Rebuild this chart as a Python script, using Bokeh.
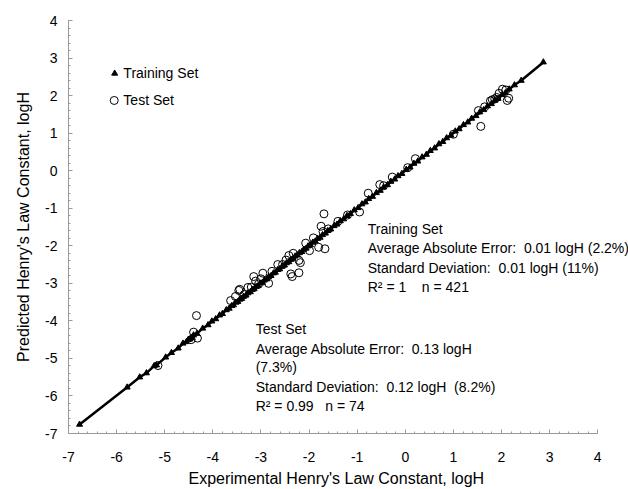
from bokeh.plotting import figure
from bokeh.models import SingleIntervalTicker, Label, PrintfTickFormatter, Title
from bokeh.embed import file_html
from bokeh.resources import INLINE

# ---------------- data ----------------
train_exp = [-6.77, -5.78, -5.52, -5.38, -5.22, -5.17, -4.98, -4.86, -4.72, -4.62,
             -4.55, -4.51, -4.48, -4.44, -4.40, -4.33, -4.21, -4.10, -4.02, -3.94,
             -3.86, -3.80, -3.72, -3.66, -3.61, -3.57, -3.52, -3.48, -3.44, -3.40,
             -3.36, -3.31, -3.27, -3.22, -3.18, -3.14, -3.10, -3.06, -3.01, -2.97,
             -2.93, -2.88, -2.84, -2.79, -2.74, -2.70, -2.65, -2.61, -2.56, -2.51,
             -2.47, -2.42, -2.38, -2.33, -2.29, -2.24, -2.20, -2.15, -2.11, -2.06,
             -2.02, -1.97, -1.92, -1.87, -1.82, -1.77, -1.72, -1.66, -1.61, -1.55,
             -1.48, -1.42, -1.35, -1.28, -1.21, -1.14, -1.06, -0.98, -0.90, -0.83,
             -0.76, -0.68, -0.60, -0.52, -0.45, -0.37, -0.30, -0.22, -0.15, -0.07,
             0.02, 0.10, 0.18, 0.26, 0.35, 0.44, 0.52, 0.61, 0.70, 0.78,
             0.86, 0.95, 1.04, 1.12, 1.21, 1.30, 1.38, 1.47, 1.55, 1.63,
             1.71, 1.79, 1.86, 1.93, 2.01, 2.08, 2.16, 2.27, 2.41, 2.87]
train_pred = [-6.76, -5.77, -5.50, -5.39, -5.20, -5.18, -4.97, -4.85, -4.73, -4.60,
              -4.56, -4.50, -4.49, -4.45, -4.38, -4.34, -4.20, -4.11, -4.01, -3.95,
              -3.85, -3.81, -3.71, -3.67, -3.60, -3.58, -3.51, -3.49, -3.43, -3.41,
              -3.35, -3.32, -3.26, -3.23, -3.17, -3.15, -3.09, -3.07, -3.00, -2.98,
              -2.92, -2.89, -2.83, -2.80, -2.73, -2.71, -2.64, -2.62, -2.55, -2.52,
              -2.46, -2.43, -2.37, -2.34, -2.28, -2.25, -2.19, -2.16, -2.10, -2.07,
              -2.01, -1.98, -1.91, -1.88, -1.81, -1.78, -1.71, -1.67, -1.60, -1.56,
              -1.47, -1.43, -1.34, -1.29, -1.20, -1.15, -1.05, -0.99, -0.89, -0.84,
              -0.75, -0.69, -0.59, -0.53, -0.44, -0.38, -0.29, -0.23, -0.14, -0.08,
              0.03, 0.09, 0.19, 0.25, 0.36, 0.43, 0.53, 0.60, 0.71, 0.77,
              0.87, 0.94, 1.05, 1.11, 1.22, 1.29, 1.39, 1.46, 1.56, 1.62,
              1.72, 1.78, 1.87, 1.92, 2.02, 2.07, 2.17, 2.28, 2.40, 2.89]

test_exp = [-5.14, -4.45, -4.34, -4.40, -4.32, -3.63, -3.53, -3.46, -3.44, -3.35,
            -3.27, -3.20, -3.15, -3.11, -3.05, -3.00, -2.96, -2.84, -2.77, -2.65,
            -2.55, -2.48, -2.42, -2.38, -2.35, -2.33, -2.21, -2.21, -2.18, -2.07,
            -1.99, -1.91, -1.80, -1.75, -1.71, -1.69, -1.67, -1.60, -1.40, -1.20,
            -0.95, -0.77, -0.53, -0.45, -0.27, 0.05, 0.21, 1.00, 1.52, 1.57,
            1.65, 1.77, 1.81, 1.86, 1.90, 1.95, 2.02, 2.09, 2.12, 2.15]
test_pred = [-5.19, -4.50, -3.86, -4.30, -4.46, -3.46, -3.35, -3.19, -3.16, -3.30,
             -3.11, -3.10, -2.82, -2.94, -3.02, -2.88, -2.73, -3.00, -2.68, -2.50,
             -2.50, -2.38, -2.26, -2.75, -2.82, -2.20, -2.39, -2.72, -2.45, -1.93,
             -2.13, -1.79, -2.04, -1.48, -1.62, -1.15, -2.08, -1.55, -1.35, -1.18,
             -1.10, -0.60, -0.37, -0.40, -0.17, 0.08, 0.32, 0.97, 1.60, 1.18,
             1.70, 1.86, 1.89, 1.91, 1.95, 2.06, 2.17, 2.15, 1.87, 1.93]

x_title = "Experimental Henry's Law Constant, logH"
y_title = "Predicted Henry's Law Constant, logH"
legend_labels = ["Training Set", "Test Set"]
train_stats = ["Training Set",
               "Average Absolute Error:\u00a0 0.01 logH (2.2%)",
               "Standard Deviation:\u00a0 0.01 logH (11%)",
               "R\u00b2 = 1\u00a0\u00a0\u00a0 n = 421"]
test_stats = ["Test Set",
              "Average Absolute Error:\u00a0 0.13 logH",
              "(7.3%)",
              "Standard Deviation:\u00a0 0.12 logH\u00a0 (8.2%)",
              "R\u00b2 = 0.99\u00a0\u00a0 n = 74"]

FONT = "Liberation Sans"

# frame extends past x = 4 so that the right-hand statistics text is not clipped;
# the axis itself is bounded to -7..4 as in the original
p = figure(width=628, height=489, x_range=(-7, 4.64), y_range=(-7, 4),
           output_backend="svg", toolbar_location=None,
           min_border_left=68, min_border_right=0, min_border_top=20,
           min_border_bottom=56)
p.outline_line_color = None
p.xgrid.visible = False
p.ygrid.visible = False
p.background_fill_color = "white"
p.border_fill_color = "white"

for ax in (p.xaxis[0], p.yaxis[0]):
    ax.bounds = (-7, 4)
    ax.ticker = SingleIntervalTicker(interval=1, num_minor_ticks=5)
    ax.formatter = PrintfTickFormatter(format="%d")
    ax.axis_line_color = "#9a9a9a"
    ax.major_tick_line_color = "#9a9a9a"
    ax.minor_tick_line_color = "#9a9a9a"
    ax.major_tick_in = 4
    ax.major_tick_out = 0
    ax.minor_tick_in = 2
    ax.minor_tick_out = 0
    ax.major_label_text_font = FONT
    ax.major_label_text_font_size = "14px"
    ax.major_label_text_color = "black"
    ax.axis_label_text_font = FONT
    ax.axis_label_text_font_size = "16px"
    ax.axis_label_text_font_style = "normal"
    ax.axis_label_text_color = "black"

p.yaxis.axis_label = y_title
p.xaxis.major_label_standoff = 18
p.yaxis.major_label_standoff = 11
p.yaxis.axis_label_standoff = 10

p.add_layout(Title(text=x_title, align="left", offset=120, standoff=6,
                   text_font=FONT, text_font_size="16px",
                   text_font_style="normal", text_color="black"), "below")

# training line + markers
p.line(train_exp, train_pred, line_color="black", line_width=2.5)
p.scatter(train_exp, train_pred, marker="triangle", size=6,
          fill_color="black", line_color="black")
# test circles
p.scatter(test_exp, test_pred, marker="circle", size=8,
          fill_color=None, line_color="black", line_width=1)

# legend (drawn as in the original figure)
p.scatter([-6.04], [2.59], marker="triangle", size=6, fill_color="black", line_color="black")
p.scatter([-6.05], [1.87], marker="circle", size=8, fill_color=None, line_color="black")


def add_text(x, y, txt):
    p.add_layout(Label(x=x, y=y, text=txt, text_font=FONT, text_font_size="14px",
                       text_baseline="middle", text_color="black"))


for lab, yy in zip(legend_labels, [2.59, 1.87]):
    add_text(-5.86, yy, lab)

tr_y = [-1.54, -2.06, -2.58, -3.10]
for lab, yy in zip(train_stats, tr_y):
    add_text(-0.78, yy, lab)

te_y = [-4.23, -4.74, -5.24, -5.77, -6.28]
for lab, yy in zip(test_stats, te_y):
    add_text(-3.11, yy, lab)

open("out.html", "w").write(file_html(p, INLINE))
